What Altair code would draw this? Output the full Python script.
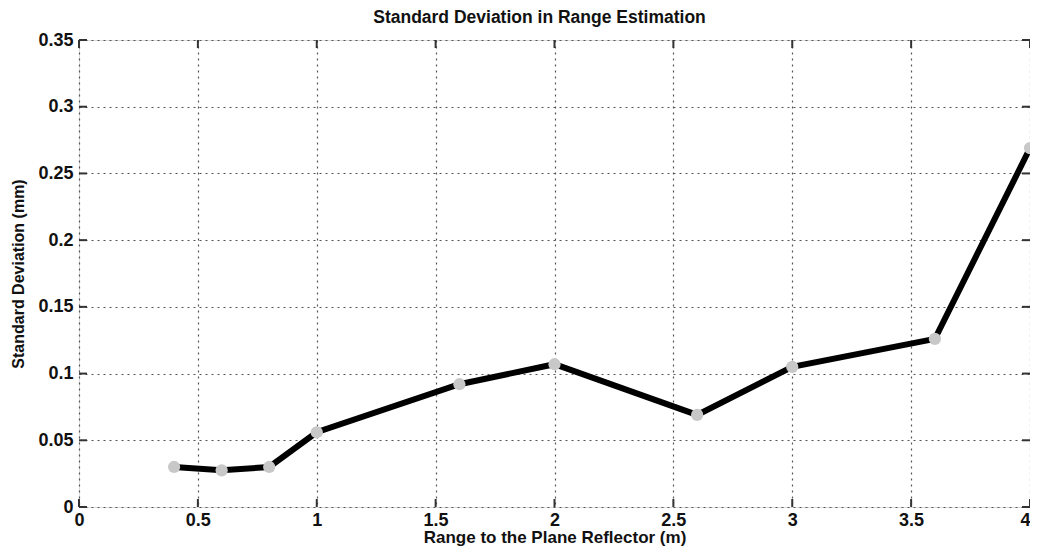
import altair as alt
import pandas as pd

ranges = [0.4, 0.6, 0.8, 1.0, 1.6, 2.0, 2.6, 3.0, 3.6, 4.0]
std_dev = [0.030, 0.0275, 0.030, 0.056, 0.092, 0.107, 0.069, 0.105, 0.126, 0.269]
x_ticks = [0, 0.5, 1, 1.5, 2, 2.5, 3, 3.5, 4]
y_ticks = [0, 0.05, 0.1, 0.15, 0.2, 0.25, 0.3, 0.35]

W, H = 951, 467
FONT = "Liberation Sans"

df = pd.DataFrame({"r": ranges, "s": std_dev})
xt = pd.DataFrame({"t": x_ticks})
yt = pd.DataFrame({"t": y_ticks})

xs = alt.Scale(domain=[0, 4], nice=False, zero=False)
ys = alt.Scale(domain=[0, 0.35], nice=False)

xaxis = alt.Axis(values=x_ticks, title="Range to the Plane Reflector (m)",
                 grid=True, gridDash=[2, 4], gridColor="#555", gridWidth=1.2,
                 ticks=False, domain=False, labelFont=FONT, labelFontSize=18,
                 labelFontWeight="bold", labelColor="#111", labelPadding=4,
                 labelAlign=alt.expr("datum.value == 4 ? 'right' : 'center'"),
                 titleFont=FONT, titleFontSize=17, titleFontWeight="bold",
                 titleColor="#111", titlePadding=0, labelFlush=False,
                 format="~g")
yaxis = alt.Axis(values=y_ticks, title="Standard Deviation (mm)",
                 grid=True, gridDash=[2, 4], gridColor="#555", gridWidth=1.2,
                 ticks=False, domain=False, labelFont=FONT, labelFontSize=18,
                 labelFontWeight="bold", labelColor="#111", labelPadding=6,
                 titleFont=FONT, titleFontSize=16, titleFontWeight="bold",
                 titleColor="#111", titlePadding=11, labelFlush=False,
                 format="~g")

line = alt.Chart(df).mark_line(color="black", strokeWidth=6).encode(
    x=alt.X("r:Q", scale=xs, axis=xaxis),
    y=alt.Y("s:Q", scale=ys, axis=yaxis),
)
pts = alt.Chart(df).mark_circle(color="#c8c8c8", opacity=1, size=150).encode(
    x=alt.X("r:Q", scale=xs), y=alt.Y("s:Q", scale=ys)
)

tk = dict(color="#333", strokeWidth=2)
xb = alt.Chart(xt).mark_rule(**tk).encode(x=alt.X("t:Q", scale=xs), y=alt.value(H), y2=alt.value(H - 8))
xtop = alt.Chart(xt).mark_rule(**tk).encode(x=alt.X("t:Q", scale=xs), y=alt.value(0), y2=alt.value(8))
yl = alt.Chart(yt).mark_rule(**tk).encode(y=alt.Y("t:Q", scale=ys), x=alt.value(0), x2=alt.value(8))
yr = alt.Chart(yt).mark_rule(**tk).encode(y=alt.Y("t:Q", scale=ys), x=alt.value(W - 8), x2=alt.value(W))

chart = alt.layer(xb, xtop, yl, yr, line, pts).properties(
    width=W, height=H,
    title=alt.TitleParams("Standard Deviation in Range Estimation", font=FONT,
                          fontSize=17.5, fontWeight="bold", color="#111", offset=5,
                          dx=-15),
    autosize=alt.AutoSizeParams(type="none"),
    padding={"left": 71, "top": 32, "right": 0, "bottom": 42},
).configure_view(stroke="#333", strokeWidth=2).configure(background="white")

chart.save("out.html", embed_options={"renderer": "svg", "actions": False})
